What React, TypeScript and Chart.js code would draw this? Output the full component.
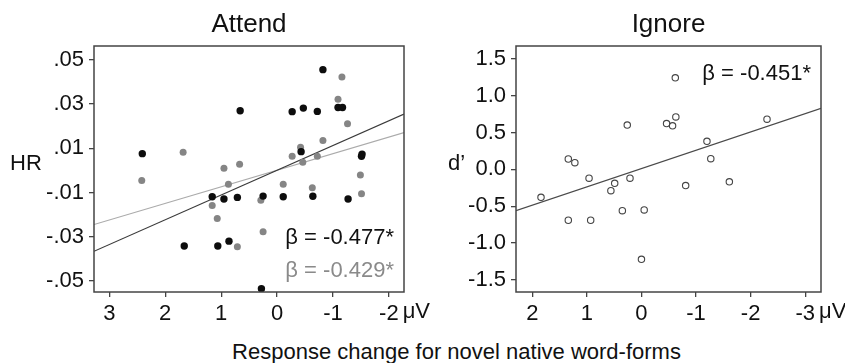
import React, { useEffect, useRef } from "react";
import { Chart, registerables } from "chart.js";

Chart.register(...registerables);

const FONT = "'Liberation Sans', Arial, Helvetica, sans-serif";

// ---------- Attend panel data ----------
const ATTEND_X_TICKS = [3, 2, 1, 0, -1, -2];
const ATTEND_X_LABELS = ["3", "2", "1", "0", "-1", "-2"];
const ATTEND_Y_TICKS = [0.05, 0.03, 0.01, -0.01, -0.03, -0.05];
const ATTEND_Y_LABELS = [".05", ".03", ".01", "-.01", "-.03", "-.05"];

const ATTEND_BLACK_X = [2.41, 0.66, -0.82, -0.27, -0.47, -0.72, -1.09, -1.17, -0.43, -1.51, -1.52, 1.16, 0.95, 0.71, 0.25, -0.11, -0.64, -1.27, 1.66, 1.06, 0.86, 0.28];
const ATTEND_BLACK_Y = [0.0076, 0.027, 0.0456, 0.0266, 0.0282, 0.0267, 0.0285, 0.0285, 0.0085, 0.0064, 0.0074, -0.0119, -0.0129, -0.0122, -0.0116, -0.0119, -0.0117, -0.0129, -0.0342, -0.0342, -0.032, -0.0535];

const ATTEND_GRAY_X = [2.42, 1.68, 0.95, 0.67, 0.87, 1.16, 1.07, 0.71, 0.29, 0.25, -0.11, -0.27, -0.42, -0.46, -0.72, -0.82, -0.63, -1.09, -1.16, -1.26, -1.49, -1.51];
const ATTEND_GRAY_Y = [-0.0045, 0.0082, 0.001, 0.0028, -0.0063, -0.0159, -0.0218, -0.0345, -0.0135, -0.0277, -0.0063, 0.0064, 0.0105, 0.0037, 0.0064, 0.0136, -0.0078, 0.0322, 0.0423, 0.0211, -0.0021, -0.0106];

const ATTEND_FIT_BLACK_X = [3.274, -2.27];
const ATTEND_FIT_BLACK_Y = [-0.0366, 0.0255];
const ATTEND_FIT_GRAY_X = [3.274, -2.27];
const ATTEND_FIT_GRAY_Y = [-0.0245, 0.0171];

// ---------- Ignore panel data ----------
const IGNORE_X_TICKS = [2, 1, 0, -1, -2, -3];
const IGNORE_X_LABELS = ["2", "1", "0", "-1", "-2", "-3"];
const IGNORE_Y_TICKS = [1.5, 1.0, 0.5, 0.0, -0.5, -1.0, -1.5];
const IGNORE_Y_LABELS = ["1.5", "1.0", "0.5", "0.0", "-0.5", "-1.0", "-1.5"];

const IGNORE_X = [1.84, 1.34, 1.22, 1.34, 0.96, 0.93, 0.56, 0.49, 0.35, 0.26, 0.21, 0.0, -0.05, -0.46, -0.57, -0.63, -0.62, -0.81, -1.2, -1.27, -1.61, -2.3];
const IGNORE_Y = [-0.38, 0.14, 0.09, -0.69, -0.12, -0.69, -0.29, -0.19, -0.56, 0.6, -0.12, -1.22, -0.55, 0.62, 0.59, 0.71, 1.24, -0.22, 0.38, 0.145, -0.17, 0.68];

const IGNORE_FIT_X = [2.298, -3.289];
const IGNORE_FIT_Y = [-0.56, 0.827];

const pts = (xs: number[], ys: number[]) => xs.map((x, i) => ({ x, y: ys[i] }));

const labelFor = (vals: number[], labels: string[]) => (v: any) => {
  const i = vals.findIndex((t) => Math.abs(t - Number(v)) < 1e-9);
  return i >= 0 ? labels[i] : "";
};

function xScale(min: number, max: number, ticks: number[], labels: string[]) {
  return {
    type: "linear",
    reverse: true,
    min,
    max,
    afterBuildTicks: (s: any) => {
      s.ticks = ticks.map((v) => ({ value: v }));
    },
    afterFit: (s: any) => {
      s.height = 38;
    },
    ticks: {
      callback: labelFor(ticks, labels),
      font: { size: 22, family: FONT },
      color: "#111",
      padding: 4,
      maxRotation: 0,
      autoSkip: false,
    },
    grid: { display: true, drawOnChartArea: false, drawTicks: true, tickLength: 5, color: "#444", lineWidth: 1.3 },
    border: { display: false },
  };
}

function yScale(min: number, max: number, ticks: number[], labels: string[], width: number) {
  return {
    type: "linear",
    min,
    max,
    afterBuildTicks: (s: any) => {
      s.ticks = ticks.map((v) => ({ value: v }));
    },
    afterFit: (s: any) => {
      s.width = width;
    },
    ticks: {
      callback: labelFor(ticks, labels),
      font: { size: 22, family: FONT },
      color: "#111",
      padding: 5,
      autoSkip: false,
    },
    grid: { display: true, drawOnChartArea: false, drawTicks: true, tickLength: 5, color: "#444", lineWidth: 1.3 },
    border: { display: false },
  };
}

type Note = { text: string; color: string; dxRight: number; y: (ca: any) => number };

function decor(title: string, yLabel: string, yLabelX: number, notes: Note[], lastTick: number, lastLabel: string) {
  return {
    id: "decor-" + title,
    afterDraw(chart: any) {
      const ctx = chart.ctx;
      const ca = chart.chartArea;
      ctx.save();
      // frame
      ctx.strokeStyle = "#444";
      ctx.lineWidth = 1.5;
      ctx.strokeRect(ca.left, ca.top, ca.right - ca.left, ca.bottom - ca.top);
      // title
      ctx.fillStyle = "#111";
      ctx.font = `26px ${FONT}`;
      ctx.textAlign = "center";
      ctx.textBaseline = "middle";
      ctx.fillText(title, (ca.left + ca.right) / 2, 25);
      // y label
      ctx.font = `22px ${FONT}`;
      ctx.textAlign = "left";
      ctx.fillText(yLabel, yLabelX, 164);
      // notes
      ctx.textAlign = "right";
      for (const n of notes) {
        ctx.fillStyle = n.color;
        ctx.fillText(n.text, ca.right - n.dxRight, n.y(ca));
      }
      // unit
      const xs = chart.scales.x;
      ctx.fillStyle = "#111";
      ctx.textAlign = "left";
      const px = xs.getPixelForValue(lastTick) + ctx.measureText(lastLabel).width / 2 + 4;
      ctx.fillText("μV", px, ca.bottom + 20);
      ctx.restore();
    },
  };
}

function Panel(props: { left: number; width: number; build: () => any }) {
  const ref = useRef<HTMLCanvasElement | null>(null);
  useEffect(() => {
    const chart = new Chart(ref.current as HTMLCanvasElement, props.build());
    return () => chart.destroy();
  }, []);
  return (
    <div style={{ position: "absolute", left: props.left, top: 0, width: props.width, height: 330 }}>
      <canvas ref={ref} />
    </div>
  );
}

function buildAttend() {
  return {
    type: "scatter",
    data: {
      datasets: [
        { data: pts(ATTEND_BLACK_X, ATTEND_BLACK_Y), backgroundColor: "#0d0d0d", borderWidth: 0, pointRadius: 3.7, order: 0 },
        { data: pts(ATTEND_GRAY_X, ATTEND_GRAY_Y), backgroundColor: "#858585", borderWidth: 0, pointRadius: 3.5, order: 1 },
        { data: pts(ATTEND_FIT_BLACK_X, ATTEND_FIT_BLACK_Y), showLine: true, borderColor: "#3a3a3a", borderWidth: 1.1, pointRadius: 0, order: 2 },
        { data: pts(ATTEND_FIT_GRAY_X, ATTEND_FIT_GRAY_Y), showLine: true, borderColor: "#ababab", borderWidth: 1.1, pointRadius: 0, order: 3 },
      ],
    },
    options: {
      responsive: true,
      maintainAspectRatio: false,
      animation: false,
      layout: { padding: { left: 0, top: 46, right: 26, bottom: 0 } },
      plugins: { legend: { display: false }, tooltip: { enabled: false }, title: { display: false } },
      scales: {
        x: xScale(-2.27, 3.274, ATTEND_X_TICKS, ATTEND_X_LABELS),
        y: yScale(-0.055, 0.0563, ATTEND_Y_TICKS, ATTEND_Y_LABELS, 94),
      },
    },
    plugins: [
      decor(
        "Attend",
        "HR",
        10,
        [
          { text: "β = -0.477*", color: "#111", dxRight: 10, y: (ca: any) => ca.bottom - 54 },
          { text: "β = -0.429*", color: "#8a8a8a", dxRight: 10, y: (ca: any) => ca.bottom - 21 },
        ],
        -2,
        "-2"
      ),
    ],
  };
}

function buildIgnore() {
  return {
    type: "scatter",
    data: {
      datasets: [
        { data: pts(IGNORE_X, IGNORE_Y), backgroundColor: "rgba(255,255,255,0)", borderColor: "#444", borderWidth: 1.1, pointRadius: 3.2, order: 0 },
        { data: pts(IGNORE_FIT_X, IGNORE_FIT_Y), showLine: true, borderColor: "#4a4a4a", borderWidth: 1.1, pointRadius: 0, order: 1 },
      ],
    },
    options: {
      responsive: true,
      maintainAspectRatio: false,
      animation: false,
      layout: { padding: { left: 0, top: 46, right: 24, bottom: 0 } },
      plugins: { legend: { display: false }, tooltip: { enabled: false }, title: { display: false } },
      scales: {
        x: xScale(-3.289, 2.298, IGNORE_X_TICKS, IGNORE_X_LABELS),
        y: yScale(-1.663, 1.672, IGNORE_Y_TICKS, IGNORE_Y_LABELS, 86),
      },
    },
    plugins: [
      decor(
        "Ignore",
        "d’",
        18,
        [{ text: "β = -0.451*", color: "#111", dxRight: 10, y: (ca: any) => ca.top + 28 }],
        -3,
        "-3"
      ),
    ],
  };
}

export default function App() {
  useEffect(() => {
    document.body.style.margin = "0";
  }, []);
  return (
    <div style={{ position: "relative", width: 845, height: 363, overflow: "hidden", background: "#fff", fontFamily: FONT }}>
      <Panel left={0} width={430} build={buildAttend} />
      <Panel left={430} width={415} build={buildIgnore} />
      <div
        style={{
          position: "absolute",
          left: 456.5,
          top: 339,
          transform: "translateX(-50%)",
          whiteSpace: "nowrap",
          fontSize: 22,
          lineHeight: "26px",
          color: "#111",
        }}
      >
        Response change for novel native word-forms
      </div>
    </div>
  );
}
